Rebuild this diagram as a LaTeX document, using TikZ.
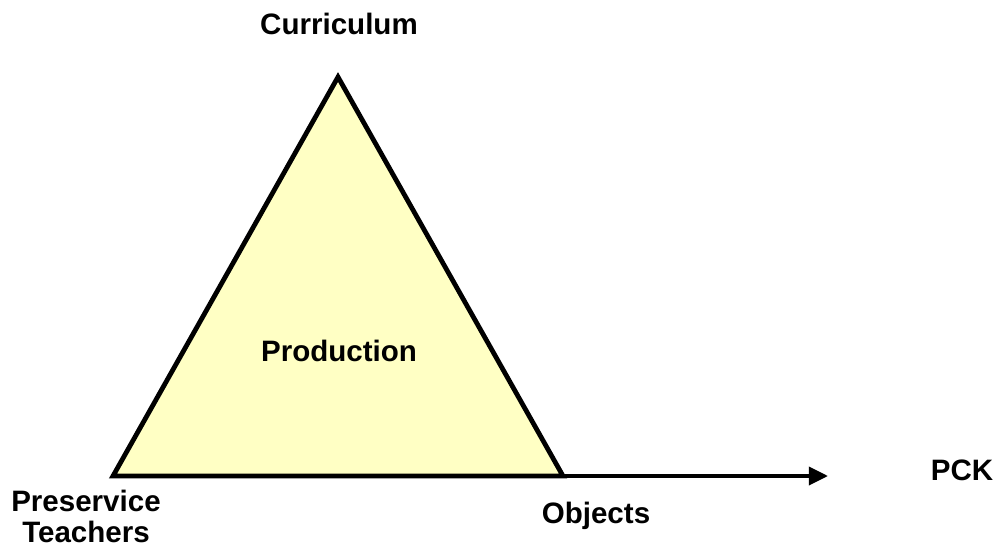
\documentclass[tikz,border=0pt]{standalone}
\usepackage{fontspec}
\setmainfont{Liberation Sans}
\usetikzlibrary{arrows.meta,positioning}
\definecolor{ProdFill}{HTML}{FFFFC4}

\begin{document}
\begin{tikzpicture}[x=0.025cm,y=0.025cm,lbl/.style={font=\fontsize{21}{22}\selectfont\bfseries, inner sep=0pt, align=center},edge/.style={line width=3.4pt, line join=miter},axis/.style={line width=2.8pt, -{Triangle[length=0.48cm,width=0.45cm]}}]
\useasboundingbox (0,0) rectangle (1003,546);
\coordinate (pt) at (113,70);
\coordinate (cu) at (338,469);
\coordinate (ob) at (563,70);
\coordinate (pckend) at (828,70);
\filldraw[edge, fill=ProdFill] (pt) -- (cu) -- (ob) -- cycle;
\draw[axis] (ob) -- (pckend);
\node[lbl] (curr) at (339,522) {Curriculum};
\node[lbl] (prod) at (339,195) {Production};
\node[lbl] (pres) at (86,30) {Preservice\\Teachers};
\node[lbl] (obj) at (596,30) {Objects};
\node[lbl] (pck) at (962,76) {PCK};
\end{tikzpicture}
\end{document}
